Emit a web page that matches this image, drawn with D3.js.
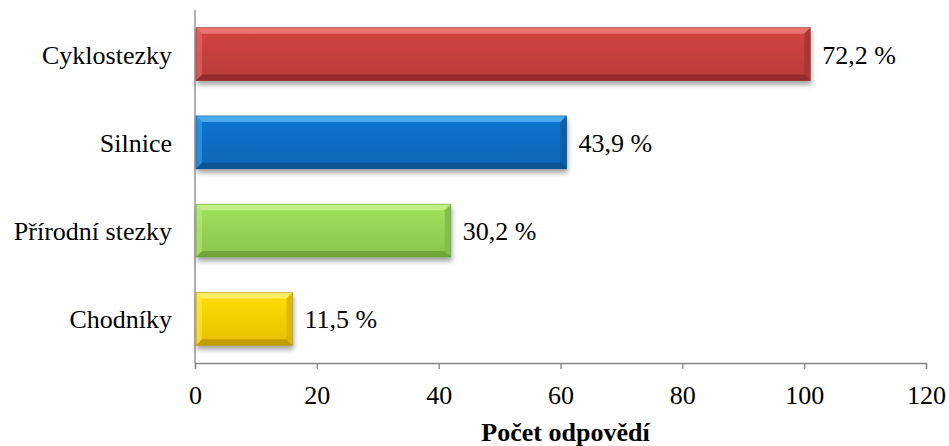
<!DOCTYPE html>
<html>
<head>
<meta charset="utf-8">
<script src="https://cdn.jsdelivr.net/npm/d3@7"></script>
<style>
  html, body { margin: 0; padding: 0; background: #fff; }
  svg { display: block; }
  text { font-family: "Liberation Serif", "Times New Roman", serif; fill: #000; }
</style>
</head>
<body>
<svg id="chart" width="949" height="446"></svg>
<script>
// Survey: where respondents ride (number of answers, share of respondents)
const categories = ["Cyklostezky", "Silnice", "Přírodní stezky", "Chodníky"];
const counts = [101, 61, 42, 16];
const percentLabels = ["72,2 %", "43,9 %", "30,2 %", "11,5 %"];
const xTicks = [0, 20, 40, 60, 80, 100, 120];
const axisTitle = "Počet odpovědí";

// face, highlight, shade for each bar
const palettes = [
  { face: "#c8403e", light: "#f07a78", dark: "#8e2827", side: "#a83332" },
  { face: "#0a6fc6", light: "#55b4f5", dark: "#074d8c", side: "#085ca6" },
  { face: "#97d656", light: "#c8f08f", dark: "#6a9f32", side: "#80bd43" },
  { face: "#fbd200", light: "#fff07a", dark: "#b99400", side: "#dcb500" }
];

const svg = d3.select("#chart");
const margin = { left: 195, right: 23, top: 10, bottom: 83 };
const W = 949, H = 446;

const x = d3.scaleLinear().domain([0, 120]).range([margin.left, W - margin.right]);
const y = d3.scaleBand().domain(categories).range([margin.top, H - margin.bottom]).paddingInner(0.4).paddingOuter(0.2);

const defs = svg.append("defs");
const shadow = defs.append("filter").attr("id", "shadow")
  .attr("x", "-5%").attr("y", "-20%").attr("width", "110%").attr("height", "150%");
shadow.append("feGaussianBlur").attr("in", "SourceAlpha").attr("stdDeviation", 2.5).attr("result", "b");
shadow.append("feOffset").attr("in", "b").attr("dx", 1).attr("dy", 4).attr("result", "o");
shadow.append("feComponentTransfer").attr("in", "o").attr("result", "s")
  .append("feFuncA").attr("type", "linear").attr("slope", 0.35);
const merge = shadow.append("feMerge");
merge.append("feMergeNode").attr("in", "s");
merge.append("feMergeNode").attr("in", "SourceGraphic");

palettes.forEach((p, i) => {
  const g = defs.append("linearGradient").attr("id", "face" + i)
    .attr("x1", 0).attr("y1", 0).attr("x2", 0).attr("y2", 1);
  g.append("stop").attr("offset", "0%").attr("stop-color", d3.color(p.face).brighter(0.15));
  g.append("stop").attr("offset", "100%").attr("stop-color", d3.color(p.face).darker(0.25));
});

// axes
const xAxis = d3.axisBottom(x).tickValues(xTicks).tickSize(6).tickFormat(d3.format("d"));
const gx = svg.append("g").attr("transform", `translate(0,${H - margin.bottom})`).call(xAxis);
gx.select(".domain").attr("stroke", "#868686").attr("stroke-width", 1.3);
gx.selectAll(".tick line").attr("stroke", "#868686").attr("stroke-width", 1.3);
gx.selectAll(".tick text").attr("y", 41).attr("dy", 0)
  .style("font-size", "26px").style("font-family", "'Liberation Serif', serif").attr("fill", "#000");

svg.append("line")
  .attr("x1", x(0)).attr("x2", x(0))
  .attr("y1", margin.top).attr("y2", H - margin.bottom)
  .attr("stroke", "#868686").attr("stroke-width", 1.3);

svg.append("text")
  .attr("x", (x(0) + x(120)) / 2 + 5).attr("y", 441)
  .attr("text-anchor", "middle")
  .style("font-size", "26px").style("font-weight", "bold")
  .text(axisTitle);

// category labels
svg.append("g").selectAll("text").data(categories).join("text")
  .attr("x", 172).attr("y", d => y(d) + y.bandwidth() / 2)
  .attr("dy", "0.37em").attr("text-anchor", "end")
  .style("font-size", "26px")
  .text(d => d);

// beveled bars
const bev = 6;
const bars = svg.append("g").selectAll("g").data(categories).join("g")
  .attr("filter", "url(#shadow)");

bars.each(function (d, i) {
  const g = d3.select(this);
  const p = palettes[i];
  const x0 = x(0) + 1, x1 = x(counts[i]);
  const y0 = y(d), y1 = y(d) + y.bandwidth();
  const b = bev;
  g.append("rect").attr("x", x0).attr("y", y0).attr("width", x1 - x0).attr("height", y1 - y0)
    .attr("fill", `url(#face${i})`);
  const poly = pts => pts.map(q => q.join(",")).join(" ");
  g.append("polygon").attr("points", poly([[x0, y0], [x1, y0], [x1 - b, y0 + b], [x0 + b, y0 + b]]))
    .attr("fill", p.light).attr("opacity", 0.85);
  g.append("polygon").attr("points", poly([[x0, y1], [x1, y1], [x1 - b, y1 - b], [x0 + b, y1 - b]]))
    .attr("fill", p.dark).attr("opacity", 0.8);
  g.append("polygon").attr("points", poly([[x0, y0], [x0 + b, y0 + b], [x0 + b, y1 - b], [x0, y1]]))
    .attr("fill", p.light).attr("opacity", 0.45);
  g.append("polygon").attr("points", poly([[x1, y0], [x1 - b, y0 + b], [x1 - b, y1 - b], [x1, y1]]))
    .attr("fill", p.side).attr("opacity", 0.9);
  g.append("rect").attr("x", x0).attr("y", y0).attr("width", x1 - x0).attr("height", y1 - y0)
    .attr("fill", "none").attr("stroke", d3.color(p.dark).darker(0.3)).attr("stroke-width", 0.8)
    .attr("stroke-opacity", 0.6);
});

// value labels
svg.append("g").selectAll("text").data(categories).join("text")
  .attr("x", (d, i) => x(counts[i]) + 12)
  .attr("y", d => y(d) + y.bandwidth() / 2)
  .attr("dy", "0.37em")
  .style("font-size", "26px")
  .text((d, i) => percentLabels[i]);
</script>
</body>
</html>
